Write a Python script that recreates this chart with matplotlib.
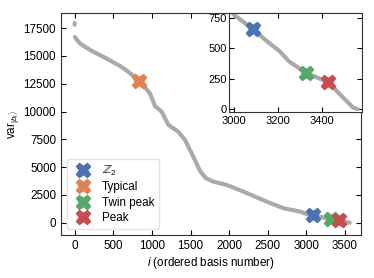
import numpy as np
import matplotlib
matplotlib.use("Agg")
import matplotlib.pyplot as plt

plt.rcParams['font.family'] = ['Liberation Sans', 'DejaVu Sans']
plt.rcParams['mathtext.fontset'] = 'custom'
plt.rcParams['mathtext.rm'] = 'Liberation Sans'
plt.rcParams['mathtext.it'] = 'Liberation Sans:italic'
plt.rcParams['font.size'] = 8.4

# first two basis states (separated from the rest of the curve)
head_i = [0, 1]
head_var = [17950, 17800]

# ordered variance curve
curve_i = [5, 30, 69, 150, 241, 350, 457, 587, 673, 760, 828, 900, 975, 1040,
           1127, 1213, 1342, 1429, 1536, 1623, 1700, 1796, 1969, 2185, 2487,
           2702, 2918, 3000, 3085, 3150, 3208, 3250, 3325, 3428, 3490, 3540, 3560]
curve_var = [16700, 16450, 16130, 15750, 15380, 15000, 14600, 14100, 13700,
             13200, 12750, 12250, 11640, 10500, 9980, 8800, 8180, 7440, 5940,
             4650, 4000, 3690, 3390, 2790, 1890, 1300, 990, 780, 660, 560, 476,
             393, 300, 220, 102, 11, 0]

# highlighted states
labels = [r'$\mathbb{Z}_2$', 'Typical', 'Twin peak', 'Peak']
mark_i = [3085, 828, 3325, 3428]
mark_var = [660, 12750, 300, 220]
colors = ['#4C72B0', '#DD8452', '#55A868', '#C44E52']

gray = '#aaaaaa'

fig = plt.figure(figsize=(3.74, 2.78), dpi=100)
ax = fig.add_axes([0.163, 0.155, 0.802, 0.799])

ax.plot(head_i, head_var, color=gray, lw=3, solid_capstyle='round')
ax.plot(curve_i, curve_var, color=gray, lw=3, solid_capstyle='round')
for lab, x, y, c in zip(labels, mark_i, mark_var, colors):
    ax.plot(x, y, 'X', color=c, ms=10.5, mec=c, label=lab, zorder=5)

ax.set_xlim(-177, 3706)
ax.set_ylim(-1106, 18885)
ax.set_xticks(np.arange(0, 3501, 500))
ax.set_yticks(np.arange(0, 17501, 2500))
ax.tick_params(direction='in', top=True, right=True, length=3.5, width=0.8)
ax.set_xlabel(r'$i$ (ordered basis number)', labelpad=2)
ax.set_ylabel(r'var$_{|b_i\rangle}$', labelpad=2)
for s in ax.spines.values():
    s.set_color('#333333')

leg = ax.legend(loc='lower left', frameon=True, handletextpad=0.6,
                labelspacing=0.3, borderaxespad=0.5)
leg.get_frame().set_edgecolor('#dddddd')

# inset zoom on the tail
ins = fig.add_axes([0.613, 0.597, 0.354, 0.357])
ins.plot(curve_i, curve_var, color=gray, lw=3, solid_capstyle='round')
for x, y, c in zip(mark_i, mark_var, colors):
    if x > 2900:
        ins.plot(x, y, 'X', color=c, ms=10.5, mec=c, zorder=5)
ins.set_xlim(2980, 3578)
ins.set_ylim(-25, 794)
ins.set_xticks([3000, 3200, 3400])
ins.set_yticks([0, 250, 500, 750])
ins.tick_params(direction='in', top=True, right=True, length=3.5, width=0.8,
                labelsize=8)
ins.tick_params(axis='x', pad=3)
ins.tick_params(axis='y', pad=2)
for s in ins.spines.values():
    s.set_color('#333333')

fig.savefig('out.png', dpi=100)
